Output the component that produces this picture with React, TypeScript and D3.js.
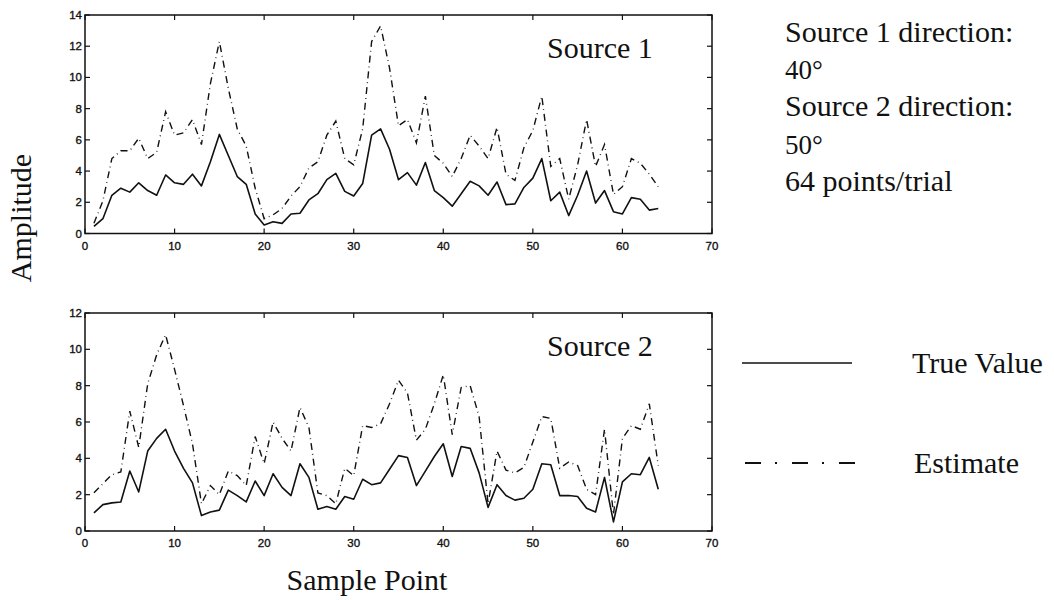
import React from "react";
import * as d3 from "d3";

const samples: number[] = d3.range(1, 65);

const source1True: number[] = [
  0.45, 0.95, 2.45, 2.9, 2.65, 3.25, 2.75, 2.45, 3.75, 3.25,
  3.15, 3.8, 3.05, 4.6, 6.35, 5.0, 3.65, 3.15, 1.25, 0.55,
  0.75, 0.65, 1.25, 1.3, 2.15, 2.55, 3.45, 3.85, 2.7, 2.4,
  3.2, 6.3, 6.7, 5.4, 3.45, 3.9, 3.1, 4.55, 2.75, 2.3,
  1.75, 2.55, 3.35, 3.05, 2.45, 3.3, 1.85, 1.9, 2.95, 3.55,
  4.8, 2.1, 2.65, 1.15, 2.45, 4.0, 1.95, 2.75, 1.4, 1.25,
  2.3, 2.2, 1.5, 1.6,
];
const source1Est: number[] = [
  0.65, 2.1, 4.8, 5.3, 5.3, 6.1, 4.8, 5.2, 7.8, 6.3,
  6.45, 7.3, 5.7, 9.6, 12.3, 9.3, 6.7, 5.6, 2.9, 0.95,
  1.2, 1.6, 2.4, 3.0, 4.2, 4.6, 6.3, 7.2, 4.8, 4.4,
  6.7, 12.3, 13.3, 10.6, 6.9, 7.3, 5.8, 8.8, 5.0, 4.5,
  3.65, 4.8, 6.3, 5.6, 4.8, 6.8, 3.8, 3.4, 5.5, 6.6,
  8.8, 4.3, 4.8, 2.2, 4.4, 7.3, 4.3, 5.7, 2.5, 3.0,
  4.8, 4.5, 3.8, 3.0,
];
const source2True: number[] = [
  1.0, 1.45, 1.55, 1.6, 3.3, 2.15, 4.4, 5.1, 5.6, 4.4,
  3.45, 2.65, 0.85, 1.05, 1.15, 2.25, 1.95, 1.6, 2.75, 1.95,
  3.15, 2.4, 1.95, 3.7, 2.95, 1.2, 1.35, 1.2, 1.9, 1.75,
  2.85, 2.55, 2.65, 3.4, 4.15, 4.05, 2.5, 3.3, 4.1, 4.8,
  3.0, 4.65, 4.55, 3.2, 1.3, 2.55, 1.95, 1.7, 1.8, 2.3,
  3.7, 3.65, 1.95, 1.95, 1.9, 1.25, 1.05, 2.95, 0.5, 2.7,
  3.15, 3.1, 4.05, 2.3,
];
const source2Est: number[] = [
  2.1, 2.6, 3.1, 3.25, 6.6, 4.6, 8.1, 9.7, 10.8, 8.9,
  6.9, 4.8, 1.5, 2.5, 2.0, 3.3, 3.05, 2.5, 5.2, 3.7,
  6.0, 5.1, 4.4, 6.8, 5.7, 2.1, 1.95, 1.5, 3.45, 3.05,
  5.8, 5.7, 5.9, 7.0, 8.3, 7.6, 5.0, 5.6, 7.0, 8.6,
  5.3, 7.9, 8.0, 6.3, 1.5, 4.4, 3.35, 3.2, 3.5, 4.9,
  6.3, 6.2, 3.45, 3.8, 3.6, 2.3, 2.0, 5.6, 0.9, 5.1,
  5.8, 5.6, 7.0, 3.6,
];

const xTicks: number[] = [0, 10, 20, 30, 40, 50, 60, 70];
const yTicks1: number[] = [0, 2, 4, 6, 8, 10, 12, 14];
const yTicks2: number[] = [0, 2, 4, 6, 8, 10, 12];

const panelTitles: string[] = ["Source 1", "Source 2"];
const infoLines: string[] = [
  "Source 1 direction:",
  "40°",
  "Source 2 direction:",
  "50°",
  "64 points/trial",
];
const legendLabels: string[] = ["True Value", "Estimate"];
const xLabel = "Sample Point";
const yLabel = "Amplitude";

const SERIF = "'Liberation Serif', 'Times New Roman', serif";
const SANS = "'Liberation Sans', Arial, sans-serif";
const EST_DASH = "7,4,0.8,4";

type PanelProps = {
  top: number;
  bottom: number;
  yMax: number;
  yTicks: number[];
  trueVals: number[];
  estVals: number[];
  title: string;
};

const LEFT = 85;
const RIGHT = 712;

function Panel({ top, bottom, yMax, yTicks, trueVals, estVals, title }: PanelProps) {
  const x = d3.scaleLinear().domain([0, 70]).range([LEFT, RIGHT]);
  const y = d3.scaleLinear().domain([0, yMax]).range([bottom, top]);
  const line = d3
    .line<number>()
    .x((_, i) => x(samples[i]))
    .y((d) => y(d));
  const tl = 5;
  const lblStyle = { fontFamily: SANS, fontSize: 11.5, fill: "#111", stroke: "#111", strokeWidth: 0.35 };
  return (
    <g>
      <path d={line(estVals) || ""} fill="none" stroke="#111" strokeWidth={1.4} strokeDasharray={EST_DASH} />
      <path d={line(trueVals) || ""} fill="none" stroke="#111" strokeWidth={1.6} strokeLinejoin="round" />
      <rect x={LEFT} y={top} width={RIGHT - LEFT} height={bottom - top} fill="none" stroke="#111" strokeWidth={1.5} />
      {xTicks.map((t) => (
        <g key={"x" + t}>
          <line x1={x(t)} x2={x(t)} y1={bottom} y2={bottom - tl} stroke="#111" strokeWidth={1.2} />
          <line x1={x(t)} x2={x(t)} y1={top} y2={top + tl} stroke="#111" strokeWidth={1.2} />
          <text x={x(t)} y={bottom + 16} textAnchor="middle" {...lblStyle}>
            {t}
          </text>
        </g>
      ))}
      {yTicks.map((t) => (
        <g key={"y" + t}>
          <line x1={LEFT} x2={LEFT + tl} y1={y(t)} y2={y(t)} stroke="#111" strokeWidth={1.2} />
          <line x1={RIGHT} x2={RIGHT - tl} y1={y(t)} y2={y(t)} stroke="#111" strokeWidth={1.2} />
          <text x={LEFT - 3} y={y(t) + 4} textAnchor="end" {...lblStyle}>
            {t}
          </text>
        </g>
      ))}
      <text x={547} y={top + 43} fontFamily={SERIF} fontSize={30} fill="#111">
        {title}
      </text>
    </g>
  );
}

export default function App() {
  const infoY = [42, 79, 116, 154, 191];
  return (
    <svg
      width={1054}
      height={600}
      style={{ position: "absolute", left: 0, top: 0, background: "#fff" }}
    >
      <rect x={0} y={0} width={1054} height={600} fill="#fff" />
      <Panel top={15} bottom={233.5} yMax={14} yTicks={yTicks1} trueVals={source1True} estVals={source1Est} title={panelTitles[0]} />
      <Panel top={313} bottom={531} yMax={12} yTicks={yTicks2} trueVals={source2True} estVals={source2Est} title={panelTitles[1]} />
      <text
        transform="translate(31,218) rotate(-90)"
        textAnchor="middle"
        fontFamily={SERIF}
        fontSize={30}
        fill="#111"
      >
        {yLabel}
      </text>
      <text x={367} y={590} textAnchor="middle" fontFamily={SERIF} fontSize={30} fill="#111">
        {xLabel}
      </text>
      {infoLines.map((s, i) => (
        <text key={s} x={785} y={infoY[i]} fontFamily={SERIF} fontSize={i % 2 === 1 ? 27 : 30} fill="#111">
          {s}
        </text>
      ))}
      <line x1={742} x2={852} y1={363} y2={363} stroke="#111" strokeWidth={1.6} />
      <text x={912} y={373} fontFamily={SERIF} fontSize={30} fill="#111">
        {legendLabels[0]}
      </text>
      <line x1={745} x2={855} y1={463} y2={463} stroke="#111" strokeWidth={1.8} strokeDasharray="16,14,2,15" />
      <text x={914} y={473} fontFamily={SERIF} fontSize={30} fill="#111">
        {legendLabels[1]}
      </text>
    </svg>
  );
}
